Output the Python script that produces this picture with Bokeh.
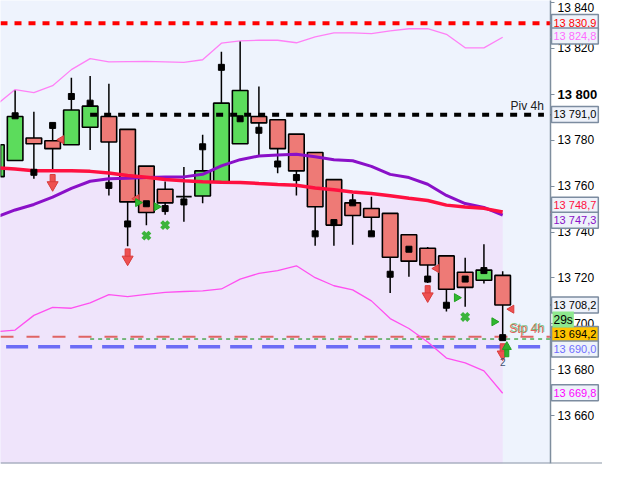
from bokeh.embed import file_html
from bokeh.layouts import row
from bokeh.models import ColumnDataSource, CustomJSTickFormatter, FixedTicker, Label, Range1d, Span
from bokeh.plotting import figure
from bokeh.resources import INLINE

# candles (index 0 is the partly hidden one on the left edge)
opens = [13764.1, 13771.1, 13780.9, 13779.7, 13778.0, 13785.6, 13790.3, 13784.7, 13768.7, 13758.6,
         13755.4, 13755.7, 13761.8, 13778.4, 13790.3, 13788.9, 13782.6, 13774.6, 13762.8, 13752.7,
         13750.2, 13748.1, 13738.8, 13732.9, 13729.6, 13722.5, 13719.0, 13721.1]
highs = [13778.0, 13801.6, 13792.4, 13786.5, 13807.2, 13807.9, 13804.6, 13784.7, 13768.7, 13762.0,
         13768.3, 13782.3, 13818.5, 13822.9, 13803.4, 13788.9, 13782.6, 13774.6, 13762.8, 13756.6,
         13755.4, 13748.1, 13738.8, 13733.5, 13729.6, 13728.8, 13734.7, 13722.9]
lows = [13764.1, 13771.1, 13763.2, 13767.2, 13778.0, 13775.7, 13755.9, 13733.8, 13742.9, 13747.5,
        13744.5, 13752.5, 13761.8, 13778.4, 13773.5, 13765.6, 13755.9, 13734.0, 13734.0, 13734.4,
        13739.2, 13713.4, 13720.5, 13717.8, 13705.4, 13707.5, 13717.6, 13694.2]
closes = [13778.0, 13790.3, 13778.4, 13776.3, 13793.1, 13794.8, 13779.2, 13753.1, 13748.5, 13752.7,
          13755.4, 13766.6, 13796.1, 13801.6, 13787.5, 13776.3, 13766.6, 13751.0, 13743.0, 13747.2,
          13746.4, 13729.0, 13727.3, 13725.6, 13715.1, 13715.9, 13723.4, 13708.2]
# small black squares drawn on each candle
dots = [None, 13790.6, 13766.0, 13786.4, 13799.0, 13796.1, 13760.3, 13743.5, 13752.3, 13750.2,
        13753.1, 13777.1, 13811.7, 13789.3, 13784.3, 13769.6, 13763.7, 13739.2, 13744.1, 13752.7,
        13739.2, 13721.6, 13732.5, 13719.5, 13708.1, 13719.5, 13723.2, 13694.0]

# bollinger bands and moving average
bb_upper = [13795.4, 13802.0, 13800.7, 13803.7, 13810.7, 13815.5, 13814.1, 13814.2, 13814.3, 13814.1,
            13813.9, 13815.0, 13822.2, 13823.2, 13823.5, 13823.5, 13822.4, 13825.0, 13826.7, 13826.7,
            13826.4, 13827.6, 13828.5, 13828.5, 13826.1, 13820.2, 13820.2, 13824.8]
bb_mid = [13746.5, 13749.6, 13752.0, 13755.2, 13759.0, 13762.1, 13763.2, 13763.4, 13763.7, 13763.9,
          13764.0, 13765.1, 13768.8, 13771.5, 13773.1, 13773.5, 13773.9, 13772.8, 13771.5, 13771.0,
          13768.6, 13765.1, 13763.7, 13760.8, 13755.9, 13752.4, 13750.7, 13747.3]
bb_lower = [13696.6, 13697.3, 13703.7, 13707.2, 13706.8, 13709.1, 13712.7, 13711.9, 13712.8, 13713.7,
            13714.1, 13714.4, 13715.2, 13719.5, 13722.0, 13723.2, 13725.3, 13720.1, 13716.6, 13714.8,
            13710.0, 13702.3, 13698.0, 13692.1, 13685.1, 13683.0, 13679.5, 13669.8]
ma_red = [13768.0, 13767.4, 13766.7, 13766.7, 13766.7, 13766.4, 13765.7, 13764.6, 13763.8, 13762.9,
          13762.3, 13761.9, 13761.7, 13761.6, 13761.1, 13760.7, 13760.4, 13759.2, 13758.4, 13757.4,
          13756.8, 13755.8, 13754.7, 13753.7, 13751.7, 13750.9, 13750.3, 13748.7]

# signals
sell_idx = [3, 7, 23, 27]
sell_px = [13761.7, 13729.3, 13713.3, 13688.0]
buy_idx = [27]
buy_px = [13688.8]
cross_idx = [8, 9, 25]
cross_px = [13738.4, 13743.0, 13703.0]
tri_left_idx = [3, 7, 23, 27]
tri_left_px = [13780.2, 13754.5, 13724.1, 13706.4]
tri_right_idx = [7, 8, 24, 26]
tri_right_px = [13752.8, 13751.0, 13711.4, 13700.9]

# horizontal levels
piv_4h = 13791.0
stp_4h = 13694.4
top_level = 13830.9
green_level = 13693.4
blue_level = 13690.0

# price tags on the scale
tag_text = ["13 830,9", "13 824,8", "13 791,0", "13 748,7", "13 747,3",
            "13 708,2", "13 694,2", "13 690,0", "13 669,8"]
tag_price = [13830.9, 13824.8, 13791.0, 13748.7, 13747.3, 13708.2, 13694.2, 13690.0, 13669.8]
# where each box sits on the scale (stacked so they do not overlap)
tag_pos = [13831.2, 13825.3, 13791.2, 13751.6, 13745.1, 13708.2, 13695.4, 13689.1, 13670.0]
tag_color = ["#ff0000", "#ff6cff", "#000000", "#ff1040", "#8a10c8",
             "#000000", "#000000", "#6e6eff", "#ff00ff"]
tag_fill = ["#eef2fa", "#eef2fa", "#eef2fa", "#eef2fa", "#eef2fa",
            "#eef2fa", "#ffc400", "#eef2fa", "#eef2fa"]
timer_text = "29s"
timer_pos = 13701.9
y_ticks = [13660, 13680, 13700, 13720, 13740, 13760, 13780, 13800, 13820, 13840]

x_start, x_end = 0.22, 29.55
y_start, y_end = 13639.2, 13840.8
FONT = "Liberation Sans"
SCALE_W = 52

idx = list(range(len(opens)))
tops = [max(o, c) for o, c in zip(opens, closes)]
bottoms = [min(o, c) for o, c in zip(opens, closes)]
colors = ["#5cdc5c" if c > o else ("#000000" if c == o else "#ee7a76") for o, c in zip(opens, closes)]
src = ColumnDataSource(dict(x=idx, o=opens, h=highs, l=lows, c=closes, top=tops, bot=bottoms, col=colors))

p = figure(
    width=602,
    height=471,
    x_range=Range1d(x_start, x_end),
    y_range=Range1d(y_start, y_end),
    x_axis_location=None,
    y_axis_location="right",
    output_backend="svg",
    toolbar_location=None,
    min_border_left=0,
    min_border_top=0,
    min_border_bottom=8,
    min_border_right=SCALE_W,
    background_fill_color="#eef3fd",
    border_fill_color="white",
    outline_line_color=None,
)
p.grid.visible = False

yax = p.yaxis[0]
yax.ticker = FixedTicker(ticks=y_ticks)
yax.formatter = CustomJSTickFormatter(code="""
    if (tick == 13800) { return ""; }
    const s = tick.toFixed(0);
    return s.slice(0, s.length - 3) + " " + s.slice(-3);
""")
yax.major_label_text_font = FONT
yax.major_label_text_font_size = "12px"
yax.major_label_text_color = "#000000"
yax.axis_line_color = "#7f8e9e"
yax.axis_line_width = 1.5
yax.major_tick_line_color = "#7f8e9e"
yax.major_tick_in = 0
yax.major_tick_out = 4
yax.minor_tick_line_color = None
yax.major_label_standoff = 3

# lavender area under the red average
p.varea(x=idx, y1=[y_start] * len(idx), y2=ma_red, fill_color="#efe4fb")

# level lines
p.line([x_start, x_end], [top_level, top_level], line_color="#ff0000", line_width=4, line_dash="7 7")
p.line([x_start, x_end], [stp_4h, stp_4h], line_color="#e06464", line_width=2, line_dash="13 13")
p.line([5, x_end], [green_level, green_level], line_color="#008a00", line_width=1, line_dash="4 4")
p.line([x_start + 0.3, x_end], [blue_level, blue_level], line_color="#6c6cf6", line_width=3.5, line_dash="22 10")

# bands
p.line(idx, bb_upper, line_color="#ff80f6", line_width=1.3)
p.line(idx, bb_lower, line_color="#ff50f0", line_width=1.3)

# candles
p.segment(x0="x", y0="h", x1="x", y1="l", source=src, line_color="black", line_width=1.5)
p.vbar(x="x", width=0.83, top="top", bottom="bot", source=src, fill_color="col",
       line_color="black", line_width=1.6)

p.line(idx, bb_mid, line_color="#8a10c8", line_width=3)
p.line(idx, ma_red, line_color="#ff1040", line_width=3.5)
p.line([5, 29.2], [piv_4h, piv_4h], line_color="black", line_width=4, line_dash="7 7")

# candle dots
dot_x = [i for i, d in zip(idx, dots) if d is not None]
dot_y = [d for d in dots if d is not None]
p.scatter(dot_x, dot_y, marker="square", size=6, fill_color="black", line_color="black")

# signal markers
p.scatter(cross_idx, cross_px, marker="x", size=10, line_color="#3cb43c", line_width=4)
p.scatter([i + 0.47 for i in tri_left_idx], tri_left_px, marker="triangle", angle=1.5708,
          size=8, fill_color="#ee5050", line_color="#d83c3c")
p.scatter([i + 0.55 for i in tri_right_idx], tri_right_px, marker="triangle", angle=-1.5708,
          size=8, fill_color="#30b830", line_color="#20a020")
p.rect(sell_idx, [v + 1.6 for v in sell_px], width=5, height=8, width_units="screen",
       height_units="screen", fill_color="#ee5050", line_color="#d83c3c")
p.scatter(sell_idx, [v - 1.2 for v in sell_px], marker="inverted_triangle", size=11,
          fill_color="#ee5050", line_color="#d83c3c")
p.rect([i + 0.22 for i in buy_idx], [v - 1.6 for v in buy_px], width=4, height=7, width_units="screen",
       height_units="screen", fill_color="#30b030", line_color="#20a020")
p.scatter([i + 0.22 for i in buy_idx], [v + 1.2 for v in buy_px], marker="triangle", size=9,
          fill_color="#30b030", line_color="#20a020")

# texts in the chart
p.add_layout(Label(x=29.2, y=piv_4h, y_offset=2, text="Piv 4h", text_align="right",
                   text_baseline="bottom", text_font=FONT, text_font_size="12px", text_color="#202020"))
p.add_layout(Label(x=29.2, y=stp_4h, y_offset=1, text="Stp 4h", text_align="right",
                   text_baseline="bottom", text_font=FONT, text_font_size="12px", text_color="#e06060"))
p.add_layout(Label(x=29.2, y=stp_4h, x_offset=1, y_offset=2, text="Stp 4h", text_align="right",
                   text_baseline="bottom", text_font=FONT, text_font_size="12px", text_color="#50b050",
                   text_alpha=0.7))
p.add_layout(Label(x=27, y=13683.4, text="2", text_align="center", text_baseline="middle",
                   text_font=FONT, text_font_size="10px", text_color="#405070"))
p.add_layout(Span(location=y_start, dimension="width", line_color="#8a96a6", line_width=2))

# transparent strip laid over the price scale, carrying the tags
s = figure(
    width=SCALE_W,
    height=471,
    x_range=Range1d(0, SCALE_W),
    y_range=p.y_range,
    x_axis_location=None,
    y_axis_location=None,
    output_backend="svg",
    toolbar_location=None,
    min_border_left=0,
    min_border_right=0,
    min_border_top=0,
    min_border_bottom=8,
    background_fill_alpha=0,
    border_fill_alpha=0,
    outline_line_color=None,
    margin=(0, 0, 0, -SCALE_W),
)
s.grid.visible = False
s.add_layout(Span(location=y_start, dimension="width", line_color="#8a96a6", line_width=2))
s.segment(x0=[0] * len(tag_price), y0=tag_price, x1=[3] * len(tag_price), y1=tag_price,
          line_color=tag_color, line_width=1.5)
s.add_layout(Label(x=7, y=13800, text="13 800", text_align="left",
                   text_baseline="middle", text_font=FONT, text_font_size="13px",
                   text_font_style="bold", text_color="black"))
for txt, pos, tcol, fcol in zip(tag_text, tag_pos, tag_color, tag_fill):
    s.add_layout(Label(x=1, y=pos, text=txt, text_align="left",
                       text_baseline="middle", text_font=FONT, text_font_size="11px",
                       text_color=tcol, background_fill_color=fcol, border_line_color="#7c8ca0",
                       border_line_width=1.5, padding=2))
s.add_layout(Label(x=2, y=timer_pos, text=timer_text, text_align="left",
                   text_baseline="middle", text_font=FONT, text_font_size="12px",
                   text_color="black", background_fill_color="#8ee88e", padding=1))

layout = row(p, s, spacing=0)
open("out.html", "w").write(file_html(layout, INLINE))
